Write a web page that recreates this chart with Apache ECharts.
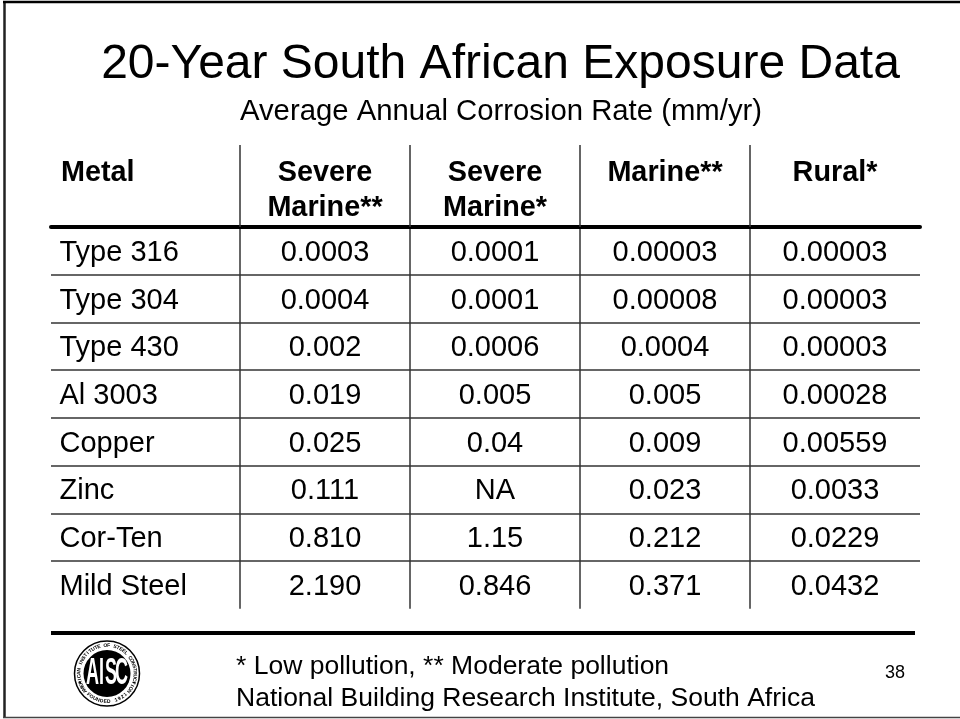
<!DOCTYPE html>
<html>
<head>
<meta charset="utf-8">
<style>html,body{margin:0;padding:0;background:#fff}#chart{width:960px;height:719px}</style>
<script src="https://cdn.jsdelivr.net/npm/echarts@6/dist/echarts.min.js"></script>
</head>
<body>
<div id="chart"></div>
<script>
// Corrosion table contents
const metals = ['Type 316', 'Type 304', 'Type 430', 'Al 3003', 'Copper', 'Zinc', 'Cor-Ten', 'Mild Steel'];
const environments = ['Severe\nMarine**', 'Severe\nMarine*', 'Marine**\n ', 'Rural*\n '];
const severeMarineModerate = ['0.0003', '0.0004', '0.002', '0.019', '0.025', '0.111', '0.810', '2.190'];
const severeMarineLow = ['0.0001', '0.0001', '0.0006', '0.005', '0.04', 'NA', '1.15', '0.846'];
const marineModerate = ['0.00003', '0.00008', '0.0004', '0.005', '0.009', '0.023', '0.212', '0.371'];
const ruralLow = ['0.00003', '0.00003', '0.00003', '0.00028', '0.00559', '0.0033', '0.0229', '0.0432'];
const columns = [severeMarineModerate, severeMarineLow, marineModerate, ruralLow];

const FONT = '"Liberation Sans", Arial, sans-serif';
const INK = '#000';
const RULE = '#333';

// Society seal: black disc, lettered ring and monogram
const sealX = 107, sealY = 673.5;
function ringText(text, radius, centreDeg, stepDeg, flipped) {
  const chars = Array.from(text);
  return chars.map((ch, i) => {
    const offset = (i - (chars.length - 1) / 2) * stepDeg;
    const deg = flipped ? centreDeg - offset : centreDeg + offset;
    const rad = deg * Math.PI / 180;
    return {
      type: 'text',
      x: sealX + radius * Math.sin(rad),
      y: sealY - radius * Math.cos(rad),
      rotation: (flipped ? 180 - deg : -deg) * Math.PI / 180,
      style: { text: ch, font: 'bold 5px ' + FONT, fill: INK, align: 'center', verticalAlign: 'middle' }
    };
  });
}
const seal = [
  { type: 'circle', shape: { cx: sealX, cy: sealY, r: 32.5 }, style: { fill: '#fff', stroke: INK, lineWidth: 1.5 } },
  { type: 'circle', shape: { cx: sealX, cy: sealY, r: 23.5 }, style: { fill: INK } },
  ...['A', 'I', 'S', 'C'].map((letter, i) => ({
    type: 'text',
    x: sealX + [-14.5, -5.5, 4, 14.5][i],
    y: sealY + 1,
    scaleX: 0.5,
    style: { text: letter, font: 'bold 36px ' + FONT, fill: '#fff', align: 'center', verticalAlign: 'middle' }
  })),
  ...ringText('AMERICAN INSTITUTE OF STEEL CONSTRUCTION', 28, 0, 6.6, false),
  ...ringText('FOUNDED 1921', 28, 180, 7.5, true),
  { type: 'circle', shape: { cx: sealX - 27, cy: sealY + 9, r: 1 }, style: { fill: INK } },
  { type: 'circle', shape: { cx: sealX + 27, cy: sealY + 9, r: 1 }, style: { fill: INK } }
];

const cellLabel = { show: true, offset: [0, 2], formatter: p => p.value[2], fontFamily: FONT, fontSize: 29, color: INK };

const chart = echarts.init(document.getElementById('chart'), null, { renderer: 'canvas' });
chart.setOption({
  animation: false,
  backgroundColor: '#fff',
  title: [
    { text: '20-Year South African Exposure Data', left: 495.5, top: 36, textAlign: 'center',
      textStyle: { fontFamily: FONT, fontSize: 48, fontWeight: 'normal', color: INK } },
    { text: 'Average Annual Corrosion Rate (mm/yr)', left: 496, top: 92, textAlign: 'center',
      textStyle: { fontFamily: FONT, fontSize: 29.3, fontWeight: 'normal', color: INK } }
  ],
  grid: [
    { left: 51, top: 227, width: 189, height: 381.7 },
    { left: 240, top: 227, width: 680, height: 381.7 }
  ],
  xAxis: [
    { // Metal column heading
      type: 'category', gridIndex: 0, position: 'top', boundaryGap: false, data: ['Metal\n ', ''],
      axisLine: { show: true, lineStyle: { color: INK, width: 4 } },
      axisTick: { show: false },
      axisLabel: { interval: 0, align: 'left', margin: 1, padding: [0, 0, 0, 10], lineHeight: 35,
        fontFamily: FONT, fontSize: 28.8, fontWeight: 'bold', color: INK }
    },
    { // Environment headings
      type: 'category', gridIndex: 1, position: 'top', data: environments,
      axisLine: { show: true, lineStyle: { color: INK, width: 4 } },
      axisTick: { show: false },
      axisLabel: { interval: 0, margin: 1, lineHeight: 35,
        fontFamily: FONT, fontSize: 28.8, fontWeight: 'bold', color: INK }
    },
    { // Column separators, running up through the heading area
      type: 'value', gridIndex: 1, position: 'top', min: 0, max: 4, interval: 1,
      axisLine: { show: false },
      axisLabel: { show: false },
      axisTick: { show: true, customValues: [0, 1, 2, 3], length: 82, lineStyle: { color: RULE, width: 1.5 } },
      splitLine: { show: true, lineStyle: { color: RULE, width: 1.5 } }
    }
  ],
  yAxis: [
    {
      type: 'category', gridIndex: 0, inverse: true, data: metals,
      axisLine: { show: false }, axisTick: { show: false }, axisLabel: { show: false },
      splitLine: { show: true, showMinLine: false, showMaxLine: false, lineStyle: { color: RULE, width: 1.5 } }
    },
    {
      type: 'category', gridIndex: 1, inverse: true, data: metals,
      axisLine: { show: false }, axisTick: { show: false }, axisLabel: { show: false },
      splitLine: { show: true, showMinLine: false, showMaxLine: false, lineStyle: { color: RULE, width: 1.5 } }
    }
  ],
  series: [
    { // Metal names, left-aligned in the first column
      type: 'scatter',
      xAxisIndex: 0,
      yAxisIndex: 0,
      symbolSize: 1,
      itemStyle: { color: 'transparent', opacity: 1 },
      data: metals.map(m => [0, m, m]),
      label: { ...cellLabel, position: 'right', distance: 8 },
      silent: true
    },
    ...columns.map((values, c) => ({
      type: 'scatter',
      xAxisIndex: 1,
      yAxisIndex: 1,
      symbolSize: 1,
      itemStyle: { color: 'transparent', opacity: 1 },
      data: values.map((v, r) => [c, metals[r], v]),
      label: { ...cellLabel, position: 'inside' },
      silent: true
    }))
  ],
  graphic: [
    // Slide frame
    { type: 'line', shape: { x1: 4.5, y1: 2, x2: 4.5, y2: 717 }, style: { stroke: '#222', lineWidth: 2.5 } },
    { type: 'line', shape: { x1: 3, y1: 2, x2: 960, y2: 2 }, style: { stroke: INK, lineWidth: 2.5 } },
    { type: 'line', shape: { x1: 3, y1: 717.5, x2: 960, y2: 717.5 }, style: { stroke: '#444', lineWidth: 1.5 } },
    // Footer
    { type: 'line', shape: { x1: 51, y1: 633, x2: 915, y2: 633 }, style: { stroke: INK, lineWidth: 4 } },
    { type: 'text', x: 236, y: 667, style: { text: '* Low pollution, ** Moderate pollution', font: '26.5px ' + FONT, fill: INK, verticalAlign: 'middle' } },
    { type: 'text', x: 236, y: 699, style: { text: 'National Building Research Institute, South Africa', font: '26.5px ' + FONT, fill: INK, verticalAlign: 'middle' } },
    { type: 'text', x: 895, y: 673, style: { text: '38', font: '18px ' + FONT, fill: INK, align: 'center', verticalAlign: 'middle' } },
    ...seal
  ]
});
</script>
</body>
</html>
